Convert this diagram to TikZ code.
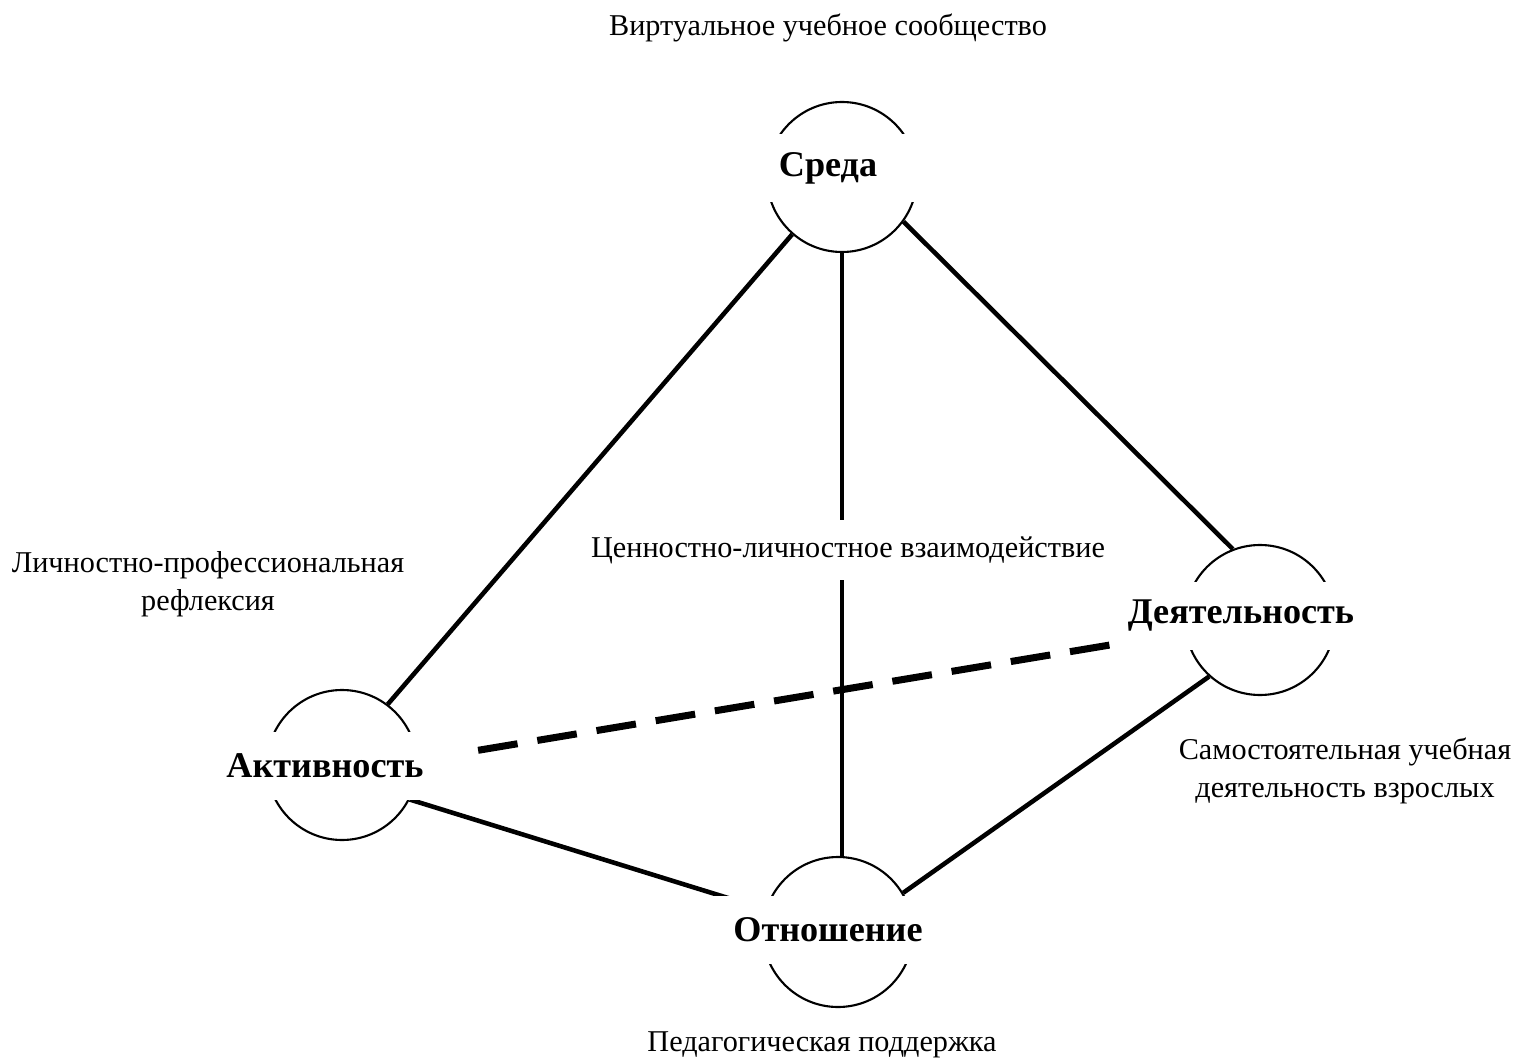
\documentclass[tikz,border=0pt]{standalone}
\usepackage{fontspec}
\setmainfont{Liberation Serif}
\usepackage{tikz}

\begin{document}
\begin{tikzpicture}[
    ring/.style={circle,draw=black,line width=0.6pt,minimum size=1.5cm,inner sep=0pt},
    vlabel/.style={fill=white,minimum width=2.8cm,minimum height=0.68cm,inner sep=0pt,font=\fontsize{10.3}{12}\selectfont\bfseries},
    note/.style={align=center,inner sep=1pt,font=\fontsize{8.6}{10.8}\selectfont},
    link/.style={line width=1.3pt},
    dashline/.style={line width=2pt,dash pattern=on 0.4cm off 0.2cm}
  ]
            \useasboundingbox (0,0) rectangle (15.16,-10.6);

            \node[ring] (sreda) at (8.42,-1.77) {};
            \node[ring] (dey) at (12.60,-6.20) {};
            \node[ring] (akt) at (3.42,-7.65) {};
            \node[ring] (otn) at (8.38,-9.32) {};

            \draw[link] (sreda.229) -- (akt.53);
            \draw[link] (sreda.-36) -- (dey.111);
            \draw[link] (sreda.south) -- (sreda.south |- otn.north);
            \draw[link] (dey.228) -- (otn.31);
            \draw[link] (akt.-27) -- (otn);

            \node[vlabel] (sredaT) at (8.28,-1.68) {Среда};
            \node[vlabel] (deyT) at (12.41,-6.16) {Деятельность};
            \node[vlabel] (aktT) at (3.25,-7.66) {Активность};
            \node[vlabel] (otnT) at (8.28,-9.30) {Отношение};

            \node[note] (virt) at (8.28,-0.28) {Виртуальное учебное сообщество};
            \node[note,fill=white,minimum height=0.6cm] (cenn) at (8.48,-5.50) {Ценностно-личностное взаимодействие};
            \node[note] (refl) at (2.08,-5.84) {Личностно-профессиональная\\рефлексия};
            \node[note] (samo) at (13.45,-7.71) {Самостоятельная учебная\\деятельность взрослых};
            \node[note] (ped) at (8.22,-10.45) {Педагогическая поддержка};

            \draw[dashline,shorten <=1.38cm,shorten >=1.52cm] ([yshift=-0.08cm]akt.center) -- (dey.center);
        \end{tikzpicture}
\end{document}
